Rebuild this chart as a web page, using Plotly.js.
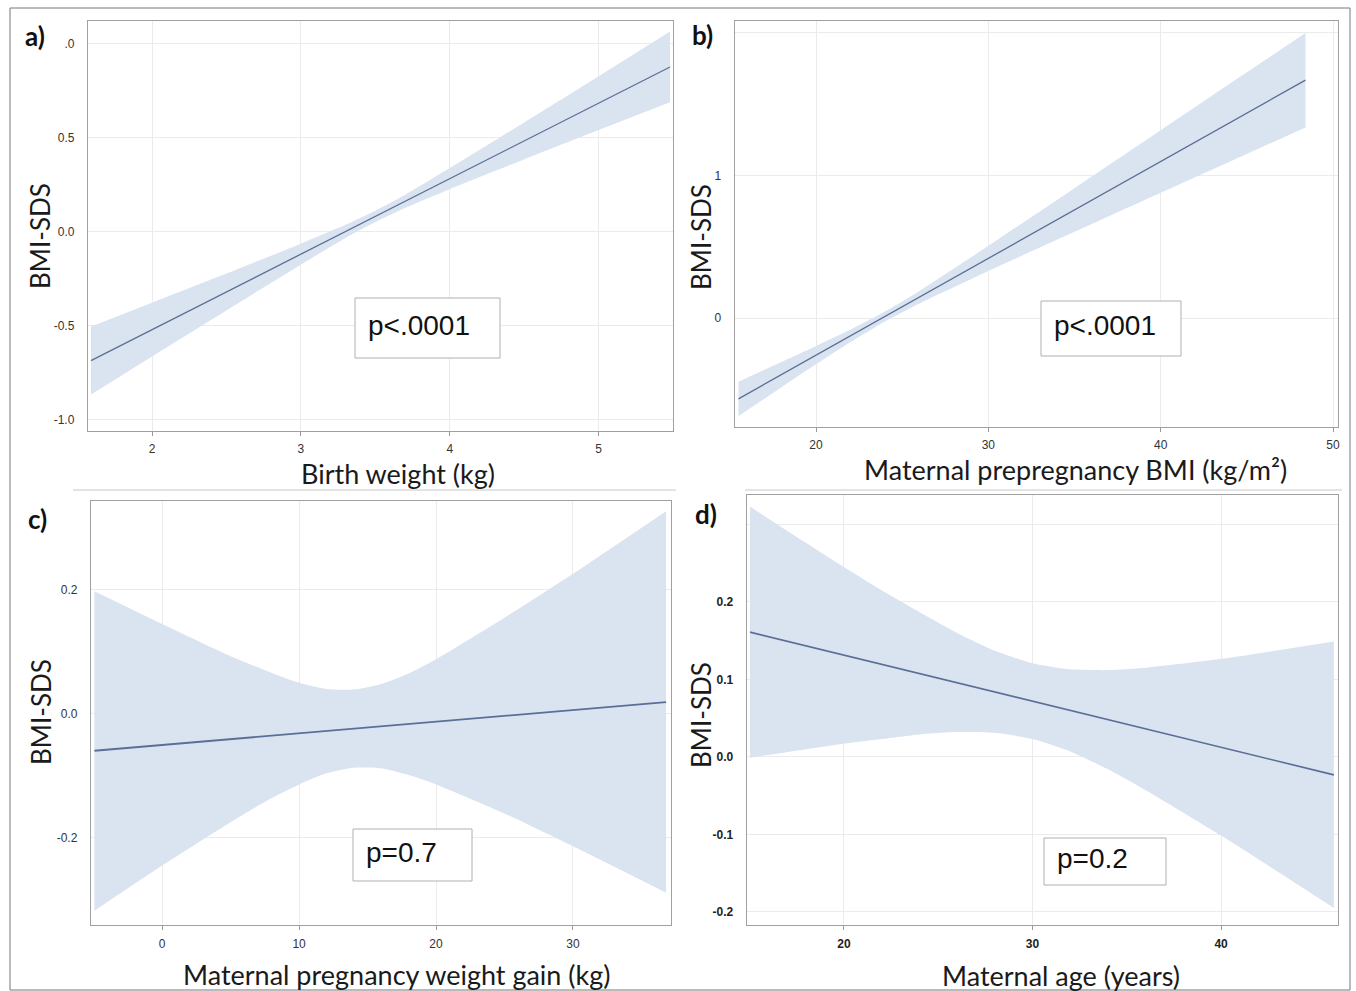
<!DOCTYPE html>
<html>
<head>
<meta charset="utf-8">
<script src="https://cdn.plot.ly/plotly-3.0.1.min.js"></script>
<style>html,body{margin:0;padding:0;background:#fff;}#chart{width:1356px;height:991px;}</style>
</head>
<body>
<div id="chart"></div>
<script>
// ---------- data ----------
// a) Birth weight
const bwX     = [1.59, 2.0, 2.5, 3.0, 3.3, 3.5, 3.7, 4.0, 4.5, 5.0, 5.48];
const bwFit   = [-0.6860, -0.5214, -0.3206, -0.1199, 0.0006, 0.0809, 0.1612, 0.2816, 0.4824, 0.6831, 0.8758];
const bwUpper = [-0.505, -0.378, -0.223, -0.064, 0.036, 0.111, 0.196, 0.338, 0.580, 0.826, 1.064];
const bwLower = [-0.867, -0.664, -0.419, -0.176, -0.034, 0.051, 0.126, 0.226, 0.384, 0.540, 0.688];
// b) Maternal prepregnancy BMI
const bmiX     = [15.5, 18, 20, 22, 24, 26, 30, 35, 40, 45, 48.4];
const bmiFit   = [-0.5646, -0.3949, -0.2591, -0.1233, 0.0125, 0.1483, 0.4199, 0.7594, 1.0989, 1.4384, 1.6693];
const bmiUpper = [-0.445, -0.307, -0.195, -0.079, 0.048, 0.192, 0.508, 0.912, 1.318, 1.724, 2.000];
const bmiLower = [-0.685, -0.483, -0.323, -0.167, -0.022, 0.104, 0.332, 0.606, 0.880, 1.152, 1.338];
// c) Maternal pregnancy weight gain
const gwgX     = [-4.95, 0, 5, 8, 10, 12, 14, 16, 18, 20, 25, 30, 36.8];
const gwgFit   = [-0.0597, -0.0504, -0.0410, -0.0354, -0.0316, -0.0278, -0.0241, -0.0203, -0.0166, -0.0128, -0.0034, 0.0060, 0.0188];
const gwgUpper = [0.198, 0.145, 0.093, 0.066, 0.050, 0.040, 0.039, 0.048, 0.065, 0.088, 0.155, 0.226, 0.327];
const gwgLower = [-0.318, -0.245, -0.175, -0.136, -0.114, -0.096, -0.087, -0.088, -0.099, -0.114, -0.161, -0.214, -0.289];
// d) Maternal age
const ageX     = [15.02, 18, 20, 22, 24, 26, 28, 30, 32, 34, 36, 40, 45.98];
const ageFit   = [0.1610, 0.1433, 0.1314, 0.1195, 0.1076, 0.0957, 0.0838, 0.0719, 0.0600, 0.0481, 0.0362, 0.0124, -0.0232];
const ageUpper = [0.323, 0.276, 0.245, 0.215, 0.187, 0.160, 0.137, 0.121, 0.113, 0.112, 0.115, 0.1265, 0.149];
const ageLower = [-0.001, 0.010, 0.017, 0.023, 0.029, 0.032, 0.031, 0.023, 0.007, -0.016, -0.043, -0.1015, -0.195];

// tick labels
const aTickVals = [-1, -0.5, 0, 0.5, 1];
const aTickText = ["-1.0", "-0.5", "0.0", "0.5", ".0"];
const aXTicks = [2, 3, 4, 5];
const bTickVals = [0, 1, 2];
const bTickText = ["0", "1", ""];
const bXTicks = [20, 30, 40, 50];
const cTickVals = [-0.2, 0, 0.2];
const cTickText = ["-0.2", "0.0", "0.2"];
const cXTicks = [0, 10, 20, 30];
const dTickVals = [-0.2, -0.1, 0, 0.1, 0.2, 0.3];
const dTickText = ["-0.2", "-0.1", "0.0", "0.1", "0.2", ""];
const dXTicks = [20, 30, 40];

const panelLabels = ["a)", "b)", "c)", "d)"];
const xTitles = ["Birth weight (kg)", "Maternal prepregnancy BMI (kg/m²)", "Maternal pregnancy weight gain (kg)", "Maternal age (years)"];
const yTitle = "BMI-SDS";
const pTexts = ["p<.0001", "p<.0001", "p=0.7", "p=0.2"];

// ---------- layout helpers ----------
const W = 1356, H = 991;
const px = v => v / W;
const py = v => 1 - v / H;

const bandColor = "rgba(218,228,241,1)";
const lineColor = "#5b6e95";

function band(x, lo, hi, fit, xa, ya, lw) {
  return [
    {x: x, y: lo, xaxis: xa, yaxis: ya, mode: "lines", line: {width: 0, shape: "spline", smoothing: 0.6}, hoverinfo: "skip", showlegend: false},
    {x: x, y: hi, xaxis: xa, yaxis: ya, mode: "lines", line: {width: 0, shape: "spline", smoothing: 0.6}, fill: "tonexty", fillcolor: bandColor, hoverinfo: "skip", showlegend: false},
    {x: x, y: fit, xaxis: xa, yaxis: ya, mode: "lines", line: {width: lw, color: lineColor}, showlegend: false}
  ];
}

const data = [].concat(
  band(bwX, bwLower, bwUpper, bwFit, "x", "y", 1.3),
  band(bmiX, bmiLower, bmiUpper, bmiFit, "x2", "y2", 1.3),
  band(gwgX, gwgLower, gwgUpper, gwgFit, "x3", "y3", 1.8),
  band(ageX, ageLower, ageUpper, ageFit, "x4", "y4", 1.6)
);

const tickFont = {family: "Liberation Sans Narrow, Liberation Sans, Arial, sans-serif", size: 12, color: "#333"};
const tickFontBold = {family: "Liberation Sans Narrow, Liberation Sans, Arial, sans-serif", size: 12, color: "#222", weight: "bold"};

function xax(domain, range, ticks, anchor, font) {
  return {domain: domain, range: range, tickvals: ticks, ticktext: ticks.map(String), anchor: anchor,
    showgrid: true, gridcolor: "#ebebeb", gridwidth: 1, zeroline: false,
    showline: true, linecolor: "#a0a0a0", linewidth: 1.2, mirror: true,
    ticks: "outside", ticklen: 4, tickcolor: "#999", tickfont: font, ticklabelstandoff: 3, fixedrange: true};
}
function yax(domain, range, vals, text, anchor, font) {
  return {domain: domain, range: range, tickvals: vals, ticktext: text, anchor: anchor,
    showgrid: true, gridcolor: "#ebebeb", gridwidth: 1, zeroline: false,
    showline: true, linecolor: "#a0a0a0", linewidth: 1.2, mirror: true,
    ticks: "", tickfont: font, ticklabelstandoff: 10, fixedrange: true};
}

const titleFont = {family: "Lato, Open Sans, sans-serif", size: 27, color: "#1a1a1a"};
const yTitleFont = {family: "Lato, Open Sans, sans-serif", size: 26, color: "#1a1a1a"};
const labelFont = {family: "Lato, Open Sans, sans-serif", size: 26, color: "#111", weight: "bold"};
const pFont = {family: "Liberation Sans, Arial, sans-serif", size: 28, color: "#111"};

const annotations = [];
// panel labels
[[35, 36], [702, 35], [37, 519], [706, 514]].forEach((p, i) => {
  annotations.push({text: panelLabels[i], xref: "paper", yref: "paper", x: px(p[0]), y: py(p[1]), xanchor: "center", yanchor: "middle", showarrow: false, font: labelFont});
});
// x titles
[[398, 473], [1075, 469], [397, 974], [1061, 975]].forEach((p, i) => {
  annotations.push({text: xTitles[i], xref: "paper", yref: "paper", x: px(p[0]), y: py(p[1]), xanchor: "center", yanchor: "middle", showarrow: false, font: titleFont});
});
// y titles
[[40, 236], [701, 237], [41, 712], [701, 715]].forEach((p) => {
  annotations.push({text: yTitle, xref: "paper", yref: "paper", x: px(p[0]), y: py(p[1]), xanchor: "center", yanchor: "middle", textangle: -90, showarrow: false, font: yTitleFont});
});
// p-value boxes
const pBoxes = [[355, 298, 500, 358], [1041, 301, 1181, 356], [353, 829, 472, 881], [1044, 838, 1166, 885]];
const shapes = [];
pBoxes.forEach((b, i) => {
  shapes.push({type: "rect", xref: "paper", yref: "paper", x0: px(b[0]), x1: px(b[2]), y0: py(b[3]), y1: py(b[1]), line: {color: "#b0b0b0", width: 1}, fillcolor: "#fff", layer: "above"});
  annotations.push({text: pTexts[i], xref: "paper", yref: "paper", x: px(b[0] + 11), y: py((b[1] + b[3]) / 2 - 3), xanchor: "left", yanchor: "middle", showarrow: false, font: pFont});
});
// outer frame and separators
shapes.push({type: "rect", xref: "paper", yref: "paper", x0: px(10), x1: px(1350), y0: py(990), y1: py(8), line: {color: "#777", width: 1}, layer: "below"});
shapes.push({type: "line", xref: "paper", yref: "paper", x0: px(73), x1: px(676), y0: py(490), y1: py(490), line: {color: "#c8c8c8", width: 1}});
shapes.push({type: "line", xref: "paper", yref: "paper", x0: px(745), x1: px(1342), y0: py(490), y1: py(490), line: {color: "#c8c8c8", width: 1}});

const layout = {
  width: W, height: H,
  margin: {l: 0, r: 0, t: 0, b: 0},
  paper_bgcolor: "#fff", plot_bgcolor: "#fff",
  showlegend: false,
  xaxis:  xax([px(88), px(673)], [1.57, 5.50], aXTicks, "y", tickFont),
  yaxis:  yax([py(430.7), py(20.7)], [-1.059, 1.122], aTickVals, aTickText, "x", tickFont),
  xaxis2: xax([px(734.7), px(1338)], [15.28, 50.29], bXTicks, "y2", tickFont),
  yaxis2: yax([py(426.7), py(20.7)], [-0.76, 2.086], bTickVals, bTickText, "x2", tickFont),
  xaxis3: xax([px(91), px(671)], [-5.2, 37.16], cXTicks, "y3", tickFont),
  yaxis3: yax([py(925), py(500.7)], [-0.341, 0.344], cTickVals, cTickText, "x3", tickFont),
  xaxis4: xax([px(746.8), px(1338)], [14.85, 46.2], dXTicks, "y4", tickFontBold),
  yaxis4: yax([py(925), py(495)], [-0.217, 0.338], dTickVals, dTickText, "x4", tickFontBold),
  annotations: annotations,
  shapes: shapes
};

Plotly.newPlot("chart", data, layout, {displayModeBar: false, staticPlot: true});
</script>
</body>
</html>
